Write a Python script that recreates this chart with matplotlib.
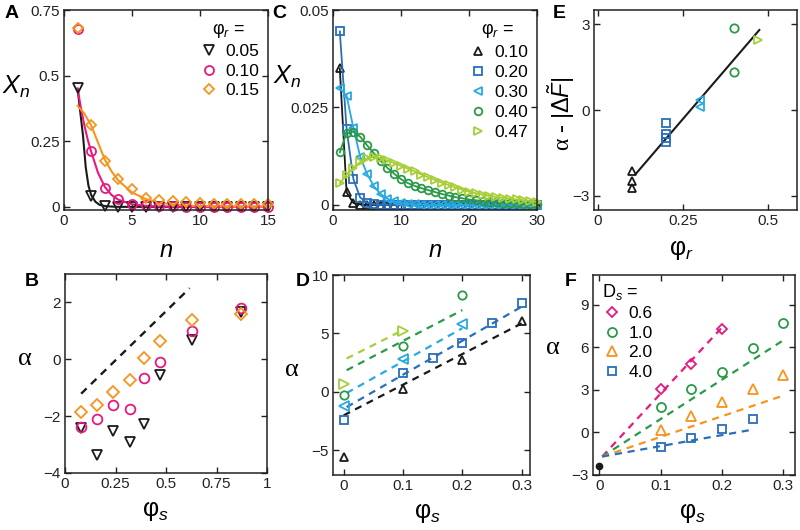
import matplotlib
matplotlib.use('Agg')
import matplotlib.pyplot as plt
from matplotlib.lines import Line2D

plt.rcParams['font.family'] = ['Liberation Sans', 'DejaVu Sans']
plt.rcParams['mathtext.fontset'] = 'custom'
plt.rcParams['mathtext.rm'] = 'Liberation Sans'
plt.rcParams['mathtext.it'] = 'Liberation Sans:italic'
plt.rcParams['mathtext.bf'] = 'Liberation Sans:bold'

# ---------------- colours ----------------
C_BLACK = '#1a1a1a'
C_PINK = '#e8197d'
C_ORANGE = '#f7941d'
C_BLUE = '#2a6ebb'
C_CYAN = '#27a9e1'
C_GREEN = '#2a9a48'
C_LGREEN = '#a6ce39'

# ---------------- Panel A data ----------------
A_n = list(range(1, 16))
A_labels = ['0.05', '0.10', '0.15']
A_x005 = [0.454, 0.042, 0.003, 0.001, 0, 0, 0, 0, 0, 0, 0, 0, 0, 0, 0]
A_x010 = [0.677, 0.212, 0.072, 0.029, 0.012, 0.006, 0.003, 0.002, 0.001, 0.001, 0.001, 0.001, 0.001, 0.001, 0.001]
A_x015 = [0.680, 0.311, 0.173, 0.107, 0.069, 0.033, 0.025, 0.021, 0.018, 0.014, 0.012, 0.011, 0.010, 0.010, 0.010]
A_fit005_n = [1, 1.2, 1.4, 1.6, 1.8, 2.0, 2.3, 2.6, 3.0, 3.5, 4.0, 15]
A_fit005_y = [0.45, 0.36, 0.27, 0.15, 0.08, 0.045, 0.02, 0.008, 0.003, 0.001, 0.0, 0.0]
A_fit010_n = [1, 1.25, 1.5, 1.75, 2, 2.5, 3, 3.5, 4, 5, 6, 7, 8, 15]
A_fit010_y = [0.45, 0.375, 0.31, 0.255, 0.21, 0.13, 0.076, 0.045, 0.027, 0.01, 0.004, 0.0015, 0.0005, 0.0]
A_fit015_n = [1, 1.5, 2, 2.5, 3, 3.5, 4, 5, 6, 7, 8, 9, 10, 12, 15]
A_fit015_y = [0.385, 0.355, 0.31, 0.245, 0.18, 0.135, 0.10, 0.055, 0.03, 0.016, 0.009, 0.005, 0.003, 0.001, 0.0]

# ---------------- Panel C data ----------------
C_n = list(range(1, 31))
C_labels = ['0.10', '0.20', '0.30', '0.40', '0.47']
C_x010 = [0.035, 0.0032, 0.0005, 0.0001] + [0.0] * 26
C_x020 = [0.0445, 0.0195, 0.0066, 0.0019, 0.0006, 0.0002] + [0.0] * 24
C_x030 = [0.030, 0.028, 0.0197, 0.0124, 0.0080, 0.0048, 0.0028, 0.0016, 0.0009, 0.0005,
          0.0003, 0.0002, 0.0001] + [0.0] * 17
C_x040 = [0.0135, 0.0185, 0.0188, 0.0175, 0.0153, 0.0133, 0.0113, 0.0095, 0.0080, 0.0066,
          0.0056, 0.0049, 0.0043, 0.0038, 0.0033, 0.0028, 0.0024, 0.0020, 0.0017, 0.0014,
          0.0012, 0.0010, 0.0008, 0.0007, 0.0006, 0.0005, 0.0004, 0.0003, 0.0003, 0.0002]
C_x047 = [0.0055, 0.0078, 0.0095, 0.0110, 0.0120, 0.0124, 0.0120, 0.0114, 0.0107, 0.0100,
          0.0093, 0.0086, 0.0078, 0.0071, 0.0064, 0.0057, 0.0051, 0.0045, 0.0039, 0.0034,
          0.0030, 0.0026, 0.0023, 0.0020, 0.0018, 0.0016, 0.0014, 0.0012, 0.0010, 0.0008]

# ---------------- Panel E data ----------------
E_x010 = [0.1, 0.1, 0.1]
E_y010 = [-2.12, -2.47, -2.73]
E_x020 = [0.2, 0.2, 0.2, 0.2]
E_y020 = [-0.45, -0.84, -0.99, -1.12]
E_x030 = [0.3, 0.3]
E_y030 = [0.36, 0.12]
E_x040 = [0.4, 0.4]
E_y040 = [2.88, 1.34]
E_x047 = [0.47]
E_y047 = [2.45]
E_fit_x = [0.11, 0.475]
E_fit_y = [-2.25, 2.8]

# ---------------- Panel B data ----------------
B_phis = [0.08, 0.16, 0.24, 0.32, 0.39, 0.47, 0.63, 0.87]
B_a005 = [-2.40, -3.35, -2.53, -2.90, -2.27, -0.55, 0.67, 1.65]
B_a010 = [-2.39, -2.10, -1.61, -1.76, -0.65, -0.09, 1.00, 1.79]
B_a015 = [-1.85, -1.61, -1.14, -0.74, 0.05, 0.65, 1.38, 1.59]
B_ref_x = [0.08, 0.617]
B_ref_y = [-1.21, 2.50]

# ---------------- Panel D data ----------------
D_x010 = [0.0, 0.1, 0.2, 0.3]
D_a010 = [-5.57, 0.23, 2.71, 6.06]
D_x020 = [0.0, 0.1, 0.15, 0.2, 0.25, 0.3]
D_a020 = [-2.43, 1.63, 2.94, 4.20, 5.86, 7.63]
D_x030 = [0.0, 0.1, 0.2]
D_a030 = [-1.23, 2.86, 5.77]
D_x040 = [0.0, 0.1, 0.2]
D_a040 = [-0.29, 3.97, 8.29]
D_x047 = [0.0, 0.1]
D_a047 = [0.66, 5.20]
D_fit010 = ([0.0, 0.3], [-2.0, 5.86])
D_fit020 = ([0.005, 0.3], [-1.29, 7.29])
D_fit030 = ([0.005, 0.2], [-0.09, 5.45])
D_fit040 = ([0.005, 0.2], [1.86, 7.0])
D_fit047 = ([0.005, 0.1], [2.86, 5.29])

# ---------------- Panel F data ----------------
F_labels = ['0.6', '1.0', '2.0', '4.0']
F_x06 = [0.1, 0.15, 0.2]
F_a06 = [3.08, 4.81, 7.27]
F_x10 = [0.1, 0.15, 0.2, 0.25, 0.3]
F_a10 = [1.78, 3.08, 4.27, 5.92, 7.70]
F_x20 = [0.1, 0.15, 0.2, 0.25, 0.3]
F_a20 = [0.17, 1.18, 2.13, 3.08, 4.08]
F_x40 = [0.1, 0.15, 0.2, 0.25]
F_a40 = [-1.00, -0.36, 0.24, 0.95]
F_x0 = [0.0]
F_a0 = [-2.37]
F_fit06 = ([0.005, 0.2], [-1.7, 7.4])
F_fit10 = ([0.005, 0.3], [-1.7, 6.5])
F_fit20 = ([0.005, 0.3], [-1.7, 2.6])
F_fit40 = ([0.005, 0.25], [-1.7, 0.2])

# ---------------- figure ----------------
fig = plt.figure(figsize=(8, 5.3), dpi=100)
W, H = 800.0, 530.0


def add_ax(x0, y0, x1, y1):
    return fig.add_axes([x0 / W, 1 - y1 / H, (x1 - x0) / W, (y1 - y0) / H])


axA = add_ax(64, 10, 268, 210)
axC = add_ax(333, 10, 537, 210)
axE = add_ax(594, 10, 797, 210)
axB = add_ax(65, 274, 267, 473)
axD = add_ax(333, 275, 530, 475)
axF = add_ax(593, 275, 795, 475)

TICK_FS = 11
for ax in [axA, axB, axC, axD, axE, axF]:
    ax.tick_params(direction='in', top=True, right=True, length=4, width=1.0,
                   labelsize=TICK_FS, pad=3, colors='#222222', labelcolor='#222222')
    for s in ax.spines.values():
        s.set_linewidth(1.1)
        s.set_color('#222222')

PHI_S = r'$\mathrm{\varphi}_{s}$'
PHI_R = r'$\mathrm{\varphi}_{r}$'
XN = r'$X_{n}$'
ALPHA_KW = dict(family=['Liberation Serif', 'DejaVu Serif'], fontsize=19)
LEG_KW = dict(frameon=False, fontsize=12.5, title_fontsize=13, handletextpad=0.35,
              borderaxespad=0.1, handlelength=1.2)


def mk(ax, x, y, m, c, ms=6.5, ls='none', lw=1.3, **kw):
    return ax.plot(x, y, linestyle=ls, marker=m, ms=ms, mfc='none', mec=c, mew=1.3,
                   color=c, lw=lw, **kw)[0]


# ----- Panel A -----
axA.plot(A_fit005_n, A_fit005_y, color=C_BLACK, lw=1.5)
axA.plot(A_fit010_n, A_fit010_y, color=C_PINK, lw=1.5)
axA.plot(A_fit015_n, A_fit015_y, color=C_ORANGE, lw=1.5)
hA1 = mk(axA, A_n, A_x005, 'v', C_BLACK)
hA2 = mk(axA, A_n, A_x010, 'o', C_PINK)
hA3 = mk(axA, A_n, A_x015, 'D', C_ORANGE, ms=5.5)
for h in (hA1, hA2, hA3):
    h.set_clip_on(False)
axA.set_xlim(0, 15)
axA.set_ylim(-0.012, 0.75)
axA.set_xticks([0, 5, 10, 15])
axA.set_yticks([0, 0.25, 0.5, 0.75])
axA.set_yticklabels(['0', '0.25', '0.5', '0.75'])
axA.set_xlabel(r'$n$', fontsize=17)
axA.xaxis.set_label_coords(0.5, -0.15)
axA.set_ylabel(XN, fontsize=18, rotation=0)
axA.yaxis.set_label_coords(-0.235, 0.55)
axA.legend([hA1, hA2, hA3], A_labels, title=PHI_R + ' =', loc='upper right',
           labelspacing=0.25, bbox_to_anchor=(1.0, 0.99), **LEG_KW)

# ----- Panel C -----
hC = []
for ys, m, c in [(C_x010, '^', C_BLACK), (C_x020, 's', C_BLUE), (C_x030, '<', C_CYAN),
                 (C_x040, 'o', C_GREEN), (C_x047, '>', C_LGREEN)]:
    h = mk(axC, C_n, ys, m, c, ms=5.5, ls='-', lw=1.3)
    h.set_clip_on(False)
    hC.append(Line2D([], [], linestyle='none', marker=m, ms=5.5, mfc='none', mec=c, mew=1.3))
axC.set_xlim(0, 30)
axC.set_ylim(-0.0013, 0.05)
axC.set_xticks([0, 10, 20, 30])
axC.set_yticks([0, 0.025, 0.05])
axC.set_yticklabels(['0', '0.025', '0.05'])
axC.set_xlabel(r'$n$', fontsize=17)
axC.xaxis.set_label_coords(0.5, -0.15)
axC.set_ylabel(XN, fontsize=18, rotation=0)
axC.yaxis.set_label_coords(-0.225, 0.6)
axC.legend(hC, C_labels, title=PHI_R + ' =', loc='upper right',
           labelspacing=0.28, bbox_to_anchor=(1.0, 0.99), **LEG_KW)

# ----- Panel E -----
axE.plot(E_fit_x, E_fit_y, color=C_BLACK, lw=1.5)
mk(axE, E_x010, E_y010, '^', C_BLACK, ms=6)
mk(axE, E_x020, E_y020, 's', C_BLUE, ms=5.5)
mk(axE, E_x030, E_y030, '<', C_CYAN, ms=6)
mk(axE, E_x040, E_y040, 'o', C_GREEN, ms=6)
mk(axE, E_x047, E_y047, '>', C_LGREEN, ms=6)
axE.set_xlim(-0.012, 0.586)
axE.set_ylim(-3.5, 3.5)
axE.set_xticks([0, 0.25, 0.5])
axE.set_xticklabels(['0', '0.25', '0.5'])
axE.set_yticks([-3, 0, 3])
axE.set_xlabel(PHI_R, fontsize=18)
axE.xaxis.set_label_coords(0.43, -0.14)
axE.set_ylabel(r'α - $|\Delta\tilde{F}|$', family=['Liberation Serif', 'DejaVu Serif'],
               fontsize=17)
axE.yaxis.set_label_coords(-0.085, 0.48)

# ----- Panel B -----
axB.plot(B_ref_x, B_ref_y, color=C_BLACK, lw=1.7, dashes=(3.2, 2.6))
mk(axB, B_phis, B_a005, 'v', C_BLACK, ms=7)
mk(axB, B_phis, B_a010, 'o', C_PINK, ms=7)
mk(axB, B_phis, B_a015, 'D', C_ORANGE, ms=6)
axB.set_xlim(0, 1)
axB.set_ylim(-4, 3)
axB.set_xticks([0, 0.25, 0.5, 0.75, 1])
axB.set_xticklabels(['0', '0.25', '0.5', '0.75', '1'])
axB.set_yticks([-4, -2, 0, 2])
axB.set_xlabel(PHI_S, fontsize=18)
axB.xaxis.set_label_coords(0.45, -0.13)
axB.set_ylabel('α', rotation=0, **ALPHA_KW)
axB.yaxis.set_label_coords(-0.2, 0.52)

# ----- Panel D -----
for (fx, fy), c in [(D_fit010, C_BLACK), (D_fit020, C_BLUE), (D_fit030, C_CYAN),
                    (D_fit040, C_GREEN), (D_fit047, C_LGREEN)]:
    axD.plot(fx, fy, color=c, lw=1.6, dashes=(3.2, 2.6))
mk(axD, D_x010, D_a010, '^', C_BLACK, ms=6)
mk(axD, D_x020, D_a020, 's', C_BLUE, ms=5.5)
mk(axD, D_x030, D_a030, '<', C_CYAN, ms=6.5)
mk(axD, D_x040, D_a040, 'o', C_GREEN, ms=6)
mk(axD, D_x047, D_a047, '>', C_LGREEN, ms=6.5)
axD.set_xlim(-0.018, 0.314)
axD.set_ylim(-7.1, 10)
axD.set_xticks([0, 0.1, 0.2, 0.3])
axD.set_xticklabels(['0', '0.1', '0.2', '0.3'])
axD.set_yticks([-5, 0, 5, 10])
axD.set_xlabel(PHI_S, fontsize=18)
axD.xaxis.set_label_coords(0.48, -0.13)
axD.set_ylabel('α', rotation=0, **ALPHA_KW)
axD.yaxis.set_label_coords(-0.21, 0.47)

# ----- Panel F -----
for (fx, fy), c in [(F_fit06, C_PINK), (F_fit10, C_GREEN), (F_fit20, C_ORANGE),
                    (F_fit40, C_BLUE)]:
    axF.plot(fx, fy, color=c, lw=1.6, dashes=(3.2, 2.6))
hF1 = mk(axF, F_x06, F_a06, 'D', C_PINK, ms=5.5)
hF2 = mk(axF, F_x10, F_a10, 'o', C_GREEN, ms=6.5)
hF3 = mk(axF, F_x20, F_a20, '^', C_ORANGE, ms=7)
hF4 = mk(axF, F_x40, F_a40, 's', C_BLUE, ms=5.5)
axF.plot(F_x0, F_a0, linestyle='none', marker='o', ms=4.5, color=C_BLACK, clip_on=False)
axF.set_xlim(-0.01, 0.319)
axF.set_ylim(-3, 11.1)
axF.set_xticks([0, 0.1, 0.2, 0.3])
axF.set_xticklabels(['0', '0.1', '0.2', '0.3'])
axF.set_yticks([-3, 0, 3, 6, 9])
axF.set_xlabel(PHI_S, fontsize=18)
axF.xaxis.set_label_coords(0.49, -0.13)
axF.set_ylabel('α', rotation=0, **ALPHA_KW)
axF.yaxis.set_label_coords(-0.2, 0.58)
legF = axF.legend([hF1, hF2, hF3, hF4], F_labels, title=r'D$_{s}$ =', loc='upper left',
                  labelspacing=0.25, bbox_to_anchor=(0.0, 1.01), **LEG_KW)
legF._legend_box.align = 'left'

# ----- panel letters -----
for txt, x, y in [('A', 12, 14), ('C', 279, 14), ('E', 559, 14),
                  ('B', 32, 281), ('D', 303, 282), ('F', 571, 282)]:
    fig.text(x / W, 1 - y / H, txt, fontsize=14, fontweight='bold',
             ha='center', va='center')

fig.savefig('out.png', dpi=100)
